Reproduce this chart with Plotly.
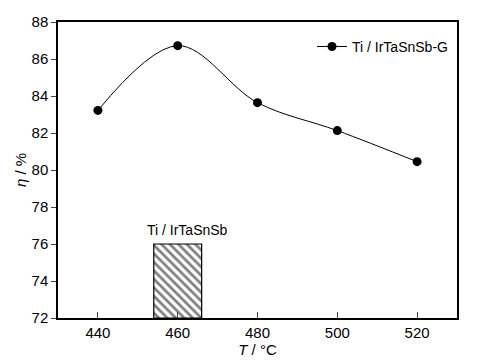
import plotly.graph_objects as go

temps = [440, 460, 480, 500, 520]
eta_g = [83.22, 86.72, 83.64, 82.13, 80.45]
bar_x = [460]
bar_val = [76]
bar_base = 72
series_name = "Ti / IrTaSnSb-G"
bar_label = "Ti / IrTaSnSb"

FONT = "Liberation Sans, Arial, sans-serif"

fig = go.Figure()
fig.add_trace(go.Bar(
    x=bar_x, y=[v - bar_base for v in bar_val], base=bar_base, width=12,
    marker=dict(color="white", line=dict(color="black", width=1.2),
                pattern=dict(shape="\\", fgcolor="black", bgcolor="white", size=6, solidity=0.45)),
    showlegend=False, hoverinfo="skip"))
fig.add_trace(go.Scatter(
    x=temps, y=eta_g, mode="lines+markers", name=series_name,
    line=dict(color="black", width=1, shape="spline", smoothing=1.0),
    marker=dict(color="black", size=9)))
fig.add_annotation(x=bar_x[0] + 2.5, y=bar_val[0], text=bar_label, showarrow=False,
                   yanchor="bottom", yshift=4, font=dict(size=14, color="black", family=FONT))

fig.update_layout(
    width=492, height=362,
    margin=dict(l=58, r=35, t=22, b=44),
    paper_bgcolor="white", plot_bgcolor="white",
    font=dict(family=FONT, size=15, color="black"),
    legend=dict(x=0.99, y=0.97, xanchor="right", yanchor="top",
                bgcolor="rgba(0,0,0,0)", font=dict(size=14)),
    xaxis=dict(range=[430, 530], tickvals=temps, ticks="inside", ticklen=6,
               showline=True, mirror=True, linecolor="black", linewidth=1.5,
               showgrid=False, zeroline=False, automargin=False,
               title=dict(text="<i>T</i> / °C", standoff=2, font=dict(size=15))),
    yaxis=dict(range=[72, 88], dtick=2, ticks="outside", ticklen=5,
               showline=True, mirror=True, linecolor="black", linewidth=1.5,
               showgrid=False, zeroline=False, automargin=False,
               title=dict(text="<i>η</i> / %", standoff=1, font=dict(size=15))),
)
fig.write_html("out.html", config={"displayModeBar": False})
with open("out.html", encoding="utf-8") as f:
    html = f.read()
html = html.replace("<head>", "<head><style>html,body{margin:0;padding:0;overflow:hidden;}</style>", 1)
with open("out.html", "w", encoding="utf-8") as f:
    f.write(html)
